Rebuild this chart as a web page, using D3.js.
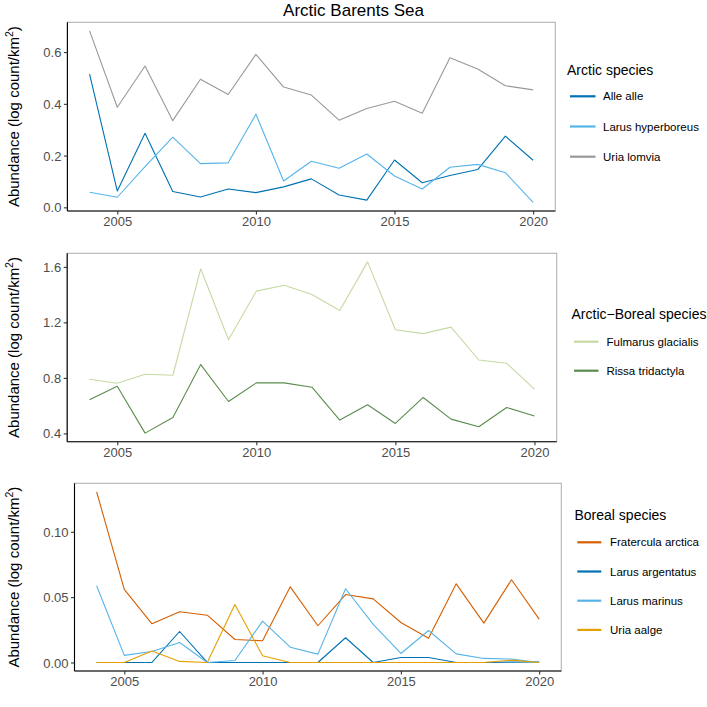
<!DOCTYPE html>
<html>
<head>
<meta charset="utf-8">
<script src="https://cdn.jsdelivr.net/npm/d3@7"></script>
<style>
  html, body { margin: 0; padding: 0; background: #fff; }
  svg { display: block; font-family: "Liberation Sans", Arial, sans-serif; }
</style>
</head>
<body>
<svg id="chart" width="707" height="707"></svg>
<script>
const years = [2004,2005,2006,2007,2008,2009,2010,2011,2012,2013,2014,2015,2016,2017,2018,2019,2020];
const xTicks = [2005, 2010, 2015, 2020];

// Panel 1: Arctic species
const alleAlle        = [0.515,0.063,0.286,0.061,0.040,0.071,0.057,0.079,0.110,0.048,0.028,0.183,0.095,0.123,0.146,0.275,0.182];
const larusHyperboreus= [0.058,0.039,0.157,0.271,0.169,0.172,0.360,0.102,0.178,0.151,0.206,0.121,0.071,0.155,0.166,0.134,0.019];
const uriaLomvia      = [0.682,0.387,0.546,0.335,0.495,0.436,0.591,0.465,0.434,0.337,0.382,0.410,0.364,0.578,0.535,0.470,0.454];
const arcticTicks = [0.0, 0.2, 0.4, 0.6];

// Panel 2: Arctic-Boreal species
const fulmarusGlacialis = [0.790,0.762,0.826,0.819,1.586,1.075,1.425,1.468,1.401,1.286,1.636,1.147,1.119,1.166,0.929,0.905,0.719];
const rissaTridactyla   = [0.642,0.740,0.402,0.515,0.896,0.630,0.764,0.764,0.733,0.496,0.606,0.472,0.659,0.503,0.448,0.587,0.525];
const arcticBorealTicks = [0.4, 0.8, 1.2, 1.6];

// Panel 3: Boreal species
const fraterculaArctica = [0.1306,0.0559,0.0296,0.0388,0.0362,0.0176,0.0166,0.0579,0.0281,0.0520,0.0487,0.0306,0.0186,0.0602,0.0301,0.0633,0.0332];
const larusArgentatus   = [0,0,0,0.0237,0,0,0,0,0,0.0189,0,0.0038,0.0038,0,0,0.0003,0.0004];
const larusMarinus      = [0.0587,0.0054,0.0084,0.0153,0,0.0015,0.0316,0.0117,0.0064,0.0564,0.0291,0.0069,0.0245,0.0066,0.0031,0.0026,0.0];
const uriaAalge         = [0,0,0.0087,0.0008,0,0.0444,0.0051,0,0,0,0,0,0,0,0,0.0018,0];
const borealTicks = [0.00, 0.05, 0.10];

const panels = [
  { left: 67.4, right: 555.3, top: 22.3, bottom: 211, ticks: arcticTicks, fmt: d3.format(".1f"),
    legendTitle: "Arctic species", lx: 567, ly: 70, keyX: 570, keyW: 25.5, textX: 603, keyY0: 96.3, keyDy: 30.2,
    series: [
      { name: "Alle alle", values: alleAlle, color: "#0072B2" },
      { name: "Larus hyperboreus", values: larusHyperboreus, color: "#56B4E9" },
      { name: "Uria lomvia", values: uriaLomvia, color: "#999999" } ] },
  { left: 67.2, right: 556.7, top: 253.3, bottom: 441.7, ticks: arcticBorealTicks, fmt: d3.format(".1f"),
    legendTitle: "Arctic\u2212Boreal species", lx: 571.5, ly: 314, keyX: 574, keyW: 24.5, textX: 606.5, keyY0: 341.7, keyDy: 29,
    series: [
      { name: "Fulmarus glacialis", values: fulmarusGlacialis, color: "#C5DAA4" },
      { name: "Rissa tridactyla", values: rissaTridactyla, color: "#5B8C4E" } ] },
  { left: 74.5, right: 561.3, top: 483.3, bottom: 671, ticks: borealTicks, fmt: d3.format(".2f"),
    legendTitle: "Boreal species", lx: 574.5, ly: 515, keyX: 577.3, keyW: 24, textX: 610, keyY0: 542.3, keyDy: 29.2,
    series: [
      { name: "Fratercula arctica", values: fraterculaArctica, color: "#D55E00" },
      { name: "Larus argentatus", values: larusArgentatus, color: "#0072B2" },
      { name: "Larus marinus", values: larusMarinus, color: "#56B4E9" },
      { name: "Uria aalge", values: uriaAalge, color: "#E69F00" } ] }
];

const svg = d3.select("#chart");

svg.append("text")
  .attr("x", 353.5).attr("y", 16)
  .attr("text-anchor", "middle")
  .attr("font-size", 17)
  .attr("fill", "#000")
  .text("Arctic Barents Sea");

function expandDomain(lo, hi) {
  const r = hi - lo;
  return [lo - 0.05 * r, hi + 0.05 * r];
}

panels.forEach(p => {
  const xDom = expandDomain(d3.min(years), d3.max(years));
  const x = d3.scaleLinear().domain(xDom).range([p.left, p.right]);
  const all = p.series.flatMap(s => s.values);
  const yDom = expandDomain(d3.min(all), d3.max(all));
  const y = d3.scaleLinear().domain(yDom).range([p.bottom, p.top]);

  const g = svg.append("g");

  // panel border
  g.append("rect")
    .attr("x", p.left).attr("y", p.top)
    .attr("width", p.right - p.left).attr("height", p.bottom - p.top)
    .attr("fill", "none").attr("stroke", "#b3b3b3").attr("stroke-width", 1.1);

  // lines
  const line = d3.line().x((d, i) => x(years[i])).y(d => y(d));
  p.series.forEach(s => {
    g.append("path")
      .datum(s.values)
      .attr("d", line)
      .attr("fill", "none")
      .attr("stroke", s.color)
      .attr("stroke-width", 1.1)
      .attr("stroke-linejoin", "round");
  });

  // axes
  const xAxis = d3.axisBottom(x).tickValues(xTicks).tickFormat(d3.format("d")).tickSize(3.5).tickPadding(2.5);
  const gx = g.append("g").attr("transform", `translate(0,${p.bottom})`).call(xAxis);
  const yAxis = d3.axisLeft(y).tickValues(p.ticks).tickFormat(p.fmt).tickSize(3.5).tickPadding(2.5);
  const gy = g.append("g").attr("transform", `translate(${p.left},0)`).call(yAxis);

  [gx, gy].forEach(a => {
    a.select(".domain").attr("stroke", "#000").attr("stroke-width", 1.1)
      .attr("d", a === gx ? `M${p.left},0H${p.right}` : `M0,${p.bottom}V${p.top}`);
    a.selectAll(".tick line").attr("stroke", "#333").attr("stroke-width", 1.1);
    a.selectAll(".tick text").attr("fill", "#4d4d4d").attr("font-size", 13)
      .attr("font-family", "Liberation Sans, Arial, sans-serif");
  });
  gy.selectAll(".tick text").attr("dy", "0.35em");

  // y title
  const cy = (p.top + p.bottom) / 2;
  const yt = g.append("text")
    .attr("transform", `translate(19,${cy}) rotate(-90)`)
    .attr("text-anchor", "middle")
    .attr("font-size", 15)
    .attr("fill", "#000");
  yt.append("tspan").text("Abundance (log count/km");
  yt.append("tspan").attr("font-size", 10.5).attr("dy", -6).text("2");
  yt.append("tspan").attr("dy", 6).text(")");

  // legend
  g.append("text")
    .attr("x", p.lx).attr("y", p.ly).attr("dy", "0.35em")
    .attr("font-size", 14).attr("fill", "#000")
    .text(p.legendTitle);
  p.series.forEach((s, i) => {
    const ky = p.keyY0 + i * p.keyDy;
    g.append("line")
      .attr("x1", p.keyX).attr("x2", p.keyX + p.keyW)
      .attr("y1", ky).attr("y2", ky)
      .attr("stroke", s.color).attr("stroke-width", 2.2);
    g.append("text")
      .attr("x", p.textX).attr("y", ky).attr("dy", "0.35em")
      .attr("font-size", 11.5).attr("fill", "#000")
      .text(s.name);
  });
});
</script>
</body>
</html>
